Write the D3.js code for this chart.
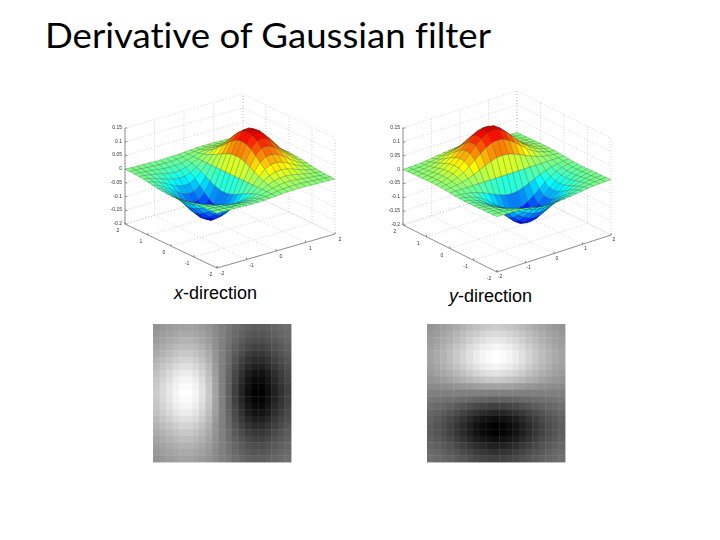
<!DOCTYPE html>
<html><head><meta charset="utf-8">
<script src="https://cdn.jsdelivr.net/npm/d3@7/dist/d3.min.js"></script>
<style>html,body{margin:0;padding:0;background:#fff}svg{display:block}</style>
</head><body><svg id="c" width="720" height="540"></svg>
<script>
const titleText = "Derivative of Gaussian filter";
const zTicks = [-0.2,-0.15,-0.1,-0.05,0,0.05,0.1,0.15];
const zTickLabels = ["-0.2","-0.15","-0.1","-0.05","0","0.05","0.1","0.15"];
const planTicks = [-2,-1,0,1,2];
const gridCoords = [-2,-1.8,-1.6,-1.4,-1.2,-1,-0.8,-0.6,-0.4,-0.2,0,0.2,0.4,0.6,0.8,1,1.2,1.4,1.6,1.8,2];
// surface height; rows run along v, columns along u
const surfaceUnit = 1/1060;
const surfaceGrid = [
[-1,-1,-2,-2,-3,-4,-4,-4,-3,-2,0,2,3,4,4,4,3,2,2,1,1],
[-1,-2,-3,-5,-6,-8,-8,-8,-6,-4,0,4,6,8,8,8,6,5,3,2,1],
[-2,-3,-6,-8,-11,-14,-15,-15,-12,-7,0,7,12,15,15,14,11,8,6,3,2],
[-3,-6,-9,-14,-19,-24,-26,-25,-20,-11,0,11,20,25,26,24,19,14,9,6,3],
[-5,-9,-15,-23,-31,-38,-41,-40,-32,-18,0,18,32,40,41,38,31,23,15,9,5],
[-8,-14,-22,-33,-45,-55,-61,-59,-47,-26,0,26,47,59,61,55,45,33,22,14,8],
[-11,-19,-31,-46,-62,-76,-84,-82,-65,-36,0,36,65,82,84,76,62,46,31,19,11],
[-14,-24,-39,-59,-80,-98,-108,-105,-83,-46,0,46,83,105,108,98,80,59,39,24,14],
[-16,-29,-47,-70,-95,-117,-129,-125,-99,-55,0,55,99,125,129,117,95,70,47,29,16],
[-18,-32,-52,-78,-106,-130,-144,-139,-110,-62,0,62,110,139,144,130,106,78,52,32,18],
[-19,-33,-54,-81,-110,-135,-149,-144,-114,-64,0,64,114,144,149,135,110,81,54,33,19],
[-18,-32,-52,-78,-106,-130,-144,-139,-110,-62,0,62,110,139,144,130,106,78,52,32,18],
[-16,-29,-47,-70,-95,-117,-129,-125,-99,-55,0,55,99,125,129,117,95,70,47,29,16],
[-14,-24,-39,-59,-80,-98,-108,-105,-83,-46,0,46,83,105,108,98,80,59,39,24,14],
[-11,-19,-31,-46,-62,-76,-84,-82,-65,-36,0,36,65,82,84,76,62,46,31,19,11],
[-8,-14,-22,-33,-45,-55,-61,-59,-47,-26,0,26,47,59,61,55,45,33,22,14,8],
[-5,-9,-15,-23,-31,-38,-41,-40,-32,-18,0,18,32,40,41,38,31,23,15,9,5],
[-3,-6,-9,-14,-19,-24,-26,-25,-20,-11,0,11,20,25,26,24,19,14,9,6,3],
[-2,-3,-6,-8,-11,-14,-15,-15,-12,-7,0,7,12,15,15,14,11,8,6,3,2],
[-1,-2,-3,-5,-6,-8,-8,-8,-6,-4,0,4,6,8,8,8,6,5,3,2,1],
[-1,-1,-2,-2,-3,-4,-4,-4,-3,-2,0,2,3,4,4,4,3,2,2,1,1]];
// filter brightness per cell (x-direction image), percent of full range
const filterGrid = [
[16,19,22,25,27,27,25,21,16,8,0,-6,-14,-19,-24,-27,-27,-24,-20,-17,-14],
[20,24,27,31,33,33,30,26,19,9,0,-8,-17,-24,-30,-33,-33,-30,-25,-20,-17],
[24,29,33,37,40,40,37,31,23,11,0,-10,-20,-29,-36,-40,-40,-36,-30,-25,-20],
[29,35,39,45,48,48,44,37,28,13,0,-12,-24,-35,-43,-48,-48,-43,-36,-30,-24],
[34,41,47,53,57,57,52,44,33,16,0,-14,-29,-41,-51,-57,-57,-51,-43,-35,-29],
[40,48,54,61,66,66,61,51,38,18,0,-16,-33,-48,-59,-66,-66,-59,-50,-41,-33],
[46,55,62,71,76,76,70,59,44,21,0,-18,-38,-55,-68,-76,-76,-68,-57,-47,-38],
[51,61,70,79,85,85,78,66,49,24,0,-20,-43,-61,-77,-85,-85,-77,-64,-53,-43],
[55,66,75,86,92,92,85,72,53,26,0,-22,-46,-66,-83,-92,-92,-83,-69,-57,-46],
[58,70,80,90,97,97,89,76,56,27,0,-23,-49,-70,-87,-97,-97,-87,-73,-60,-49],
[60,72,82,93,100,100,92,78,58,28,0,-24,-50,-72,-90,-100,-100,-90,-75,-62,-50],
[58,70,80,90,97,97,89,76,56,27,0,-23,-49,-70,-87,-97,-97,-87,-73,-60,-49],
[55,66,75,86,92,92,85,72,53,26,0,-22,-46,-66,-83,-92,-92,-83,-69,-57,-46],
[51,61,70,79,85,85,78,66,49,24,0,-20,-43,-61,-77,-85,-85,-77,-64,-53,-43],
[46,55,62,71,76,76,70,59,44,21,0,-18,-38,-55,-68,-76,-76,-68,-57,-47,-38],
[40,48,54,61,66,66,61,51,38,18,0,-16,-33,-48,-59,-66,-66,-59,-50,-41,-33],
[34,41,47,53,57,57,52,44,33,16,0,-14,-29,-41,-51,-57,-57,-51,-43,-35,-29],
[29,35,39,45,48,48,44,37,28,13,0,-12,-24,-35,-43,-48,-48,-43,-36,-30,-24],
[24,29,33,37,40,40,37,31,23,11,0,-10,-20,-29,-36,-40,-40,-36,-30,-25,-20],
[20,24,27,31,33,33,30,26,19,9,0,-8,-17,-24,-30,-33,-33,-30,-25,-20,-17],
[16,19,22,25,27,27,25,21,16,8,0,-6,-14,-19,-24,-27,-27,-24,-20,-17,-14]];

const svg = d3.select("#c");
const defs = svg.append("defs");
defs.append("filter").attr("id","soft").attr("x","-5%").attr("y","-5%").attr("width","110%").attr("height","110%")
  .append("feGaussianBlur").attr("stdDeviation",0.55);

svg.append("text").attr("x",45).attr("y",48).attr("font-family","Lato, 'Open Sans', sans-serif")
  .style("font-variant-ligatures","none").style("font-kerning","normal")
  .attr("font-size",35).attr("fill","#000").attr("textLength",446).attr("lengthAdjust","spacingAndGlyphs").text(titleText);

const jet = d3.scaleLinear()
  .domain([-1,-0.75,-0.25,0.25,0.75,1].map(d=>d*0.165))
  .range(["#0000a0","#0000ff","#00ffff","#ffff00","#ff0000","#800000"]);
const gray = d3.scaleLinear().domain([-100,100]).range(["#000000","#ffffff"]);

function surfacePlot(cfg){
  const g = svg.append("g").attr("filter","url(#soft)");
  const uX = d3.scaleLinear().domain([-2,2]).range([cfg.front[0],cfg.right[0]]);
  const uY = d3.scaleLinear().domain([-2,2]).range([cfg.front[1],cfg.right[1]]);
  const vX = d3.scaleLinear().domain([-2,2]).range([0,cfg.left[0]-cfg.front[0]]);
  const vY = d3.scaleLinear().domain([-2,2]).range([0,cfg.left[1]-cfg.front[1]]);
  const zY = d3.scaleLinear().domain([-0.2,0.15]).range([0,-cfg.height]);
  const P = (u,v,z)=>[uX(u)+vX(v), uY(u)+vY(v)+zY(z)];
  const path = d3.line();
  const zMin=-0.2, zMax=0.15;
  const seg=(a,b,cls)=>g.append("path").attr("d",path([a,b])).attr("fill","none")
      .attr("stroke",cls==="axis"?"#777":"#c2c2c2").attr("stroke-width",cls==="axis"?0.8:0.7)
      .attr("stroke-dasharray",cls==="axis"?null:"1 2");
  zTicks.forEach(z=>{ seg(P(-2,2,z),P(2,2,z)); seg(P(2,2,z),P(2,-2,z)); });
  planTicks.forEach(t=>{
    seg(P(t,2,zMin),P(t,2,zMax)); seg(P(2,t,zMin),P(2,t,zMax));
    seg(P(t,-2,zMin),P(t,2,zMin)); seg(P(-2,t,zMin),P(2,t,zMin));
  });
  seg(P(-2,2,zMin),P(-2,2,zMax),"axis");
  seg(P(-2,2,zMin),P(-2,-2,zMin),"axis");
  seg(P(-2,-2,zMin),P(2,-2,zMin),"axis");
  const txt=(p,s,a)=>g.append("text").attr("x",p[0]).attr("y",p[1]).attr("font-family","'Liberation Sans', Arial, sans-serif")
      .attr("font-size",5).attr("fill","#333").attr("text-anchor",a).text(s);
  zTicks.forEach((z,i)=>{ const p=P(-2,2,z);
    seg(p,[p[0]+2.5,p[1]],"axis");
    txt([p[0]-3,p[1]+1],zTickLabels[i],"end"); });
  planTicks.forEach(t=>{
    const a=P(t,-2,zMin), b=P(-2,t,zMin);
    seg(a,[a[0],a[1]-2],"axis"); seg(b,[b[0],b[1]-2],"axis");
    txt([a[0]+cfg.uLab[0],a[1]+cfg.uLab[1]],String(t),"middle");
    txt([b[0]+cfg.vLab[0],b[1]+cfg.vLab[1]],String(t),"middle");
  });
  const cells=[];
  const n=gridCoords.length;
  const val=(iu,iv)=>(cfg.transpose?surfaceGrid[iu][iv]:surfaceGrid[iv][iu])*surfaceUnit;
  for(let iv=0;iv<n-1;iv++)for(let iu=0;iu<n-1;iu++){
    const c=[[iu,iv],[iu+1,iv],[iu+1,iv+1],[iu,iv+1]];
    const pts=c.map(([a,b])=>P(gridCoords[a],gridCoords[b],val(a,b)));
    const mz=d3.mean(c,([a,b])=>val(a,b));
    const depth=d3.mean(c,([a,b])=>P(gridCoords[a],gridCoords[b],zMin)[1]);
    cells.push({pts,mz,depth});
  }
  cells.sort((a,b)=>d3.ascending(a.depth,b.depth));
  g.append("g").selectAll("path").data(cells).join("path")
    .attr("d",d=>path(d.pts)+"Z").attr("fill",d=>jet(d.mz))
    .attr("stroke","#1c3a2a").attr("stroke-opacity",0.5).attr("stroke-width",0.45);
}
surfacePlot({front:[217,268],right:[335,234],left:[125,224],height:96,transpose:false,uLab:[5,7],vLab:[-7,8]});
surfacePlot({front:[497,272],right:[611,235],left:[403,225],height:97,transpose:true,uLab:[3,6],vLab:[-8,8]});

function heat(x0,y0,size,transpose){
  const idx=d3.range(filterGrid.length);
  const bx=d3.scaleBand().domain(idx).range([x0,x0+size]);
  const by=d3.scaleBand().domain(idx).range([y0,y0+size]);
  const cells=idx.flatMap(r=>idx.map(c=>({r,c,v:transpose?filterGrid[c][r]:filterGrid[r][c]})));
  svg.append("g").selectAll("rect").data(cells).join("rect")
    .attr("x",d=>bx(d.c)).attr("y",d=>by(d.r)).attr("width",bx.bandwidth()+0.4).attr("height",by.bandwidth()+0.4)
    .attr("fill",d=>gray(d.v));
}
heat(153,324,138,false);
heat(427,324,138,true);

function label(x,y,first){
  const t=svg.append("text").attr("x",x).attr("y",y).attr("font-family","'Liberation Sans', Arial, sans-serif").attr("font-size",18).attr("fill","#000");
  t.append("tspan").attr("font-style","italic").text(first);
  t.append("tspan").text("-direction");
}
label(174,299,"x");
label(449,302,"y");
</script></body></html>
